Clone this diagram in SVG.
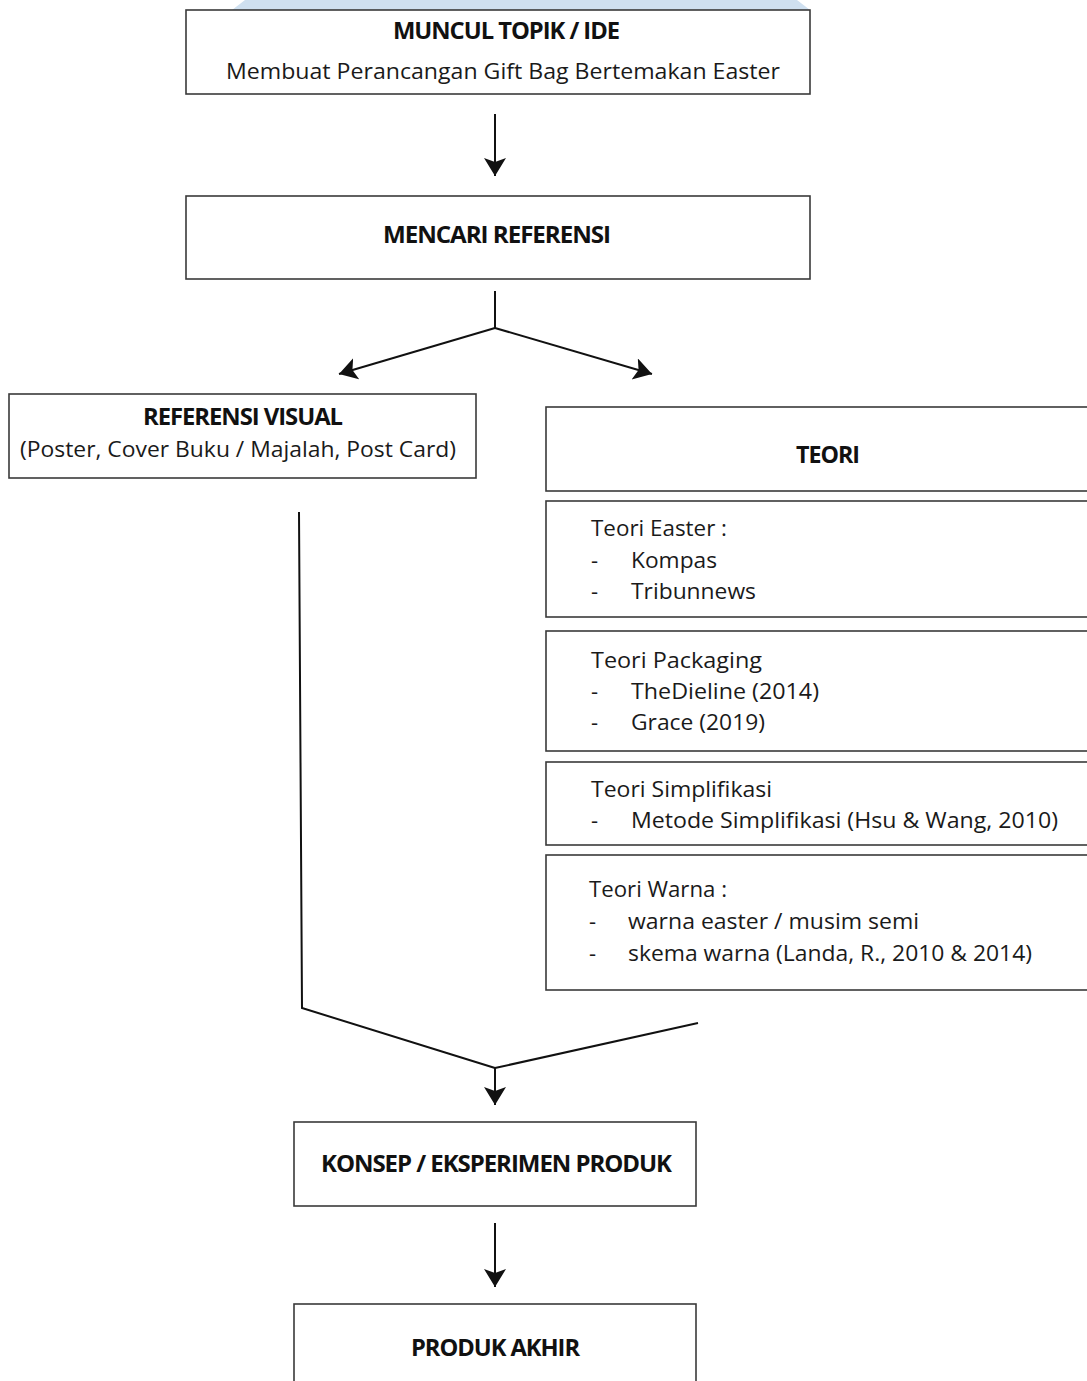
<svg xmlns="http://www.w3.org/2000/svg" width="1087" height="1381" viewBox="0 0 1087 1381">
  <style>
    .box { fill: #ffffff; stroke: #3a3a3a; stroke-width: 1.6; }
    .ttl { font-family: "Open Sans", "Liberation Sans", sans-serif; font-weight: 700; font-size: 23px; fill: #111111; letter-spacing: -1px; }
    .txt { font-family: "Open Sans", "Liberation Sans", sans-serif; font-size: 22px; fill: #1a1a1a; }
    .con { fill: none; stroke: #111111; stroke-width: 2; }
  </style>
  <defs>
    <marker id="arr" markerUnits="userSpaceOnUse" markerWidth="20" markerHeight="24" refX="18" refY="11" orient="auto">
      <path d="M0,0 L18,11 L0,22 L4,11 Z" fill="#111111"/>
    </marker>
  </defs>
  <rect x="0" y="0" width="1087" height="1381" fill="#ffffff"/>
  <polygon points="245,0 797,0 810,10 232,10" fill="#cfe0f0"/>

  <g id="connectors">
    <line class="con" x1="495" y1="114" x2="495" y2="176" marker-end="url(#arr)"/>
    <line class="con" x1="495" y1="291" x2="495" y2="328"/>
    <line class="con" x1="495" y1="328" x2="339" y2="374" marker-end="url(#arr)"/>
    <line class="con" x1="495" y1="328" x2="652" y2="374" marker-end="url(#arr)"/>
    <polyline class="con" points="299,512 302,1008 495,1068"/>
    <line class="con" x1="698" y1="1023" x2="495" y2="1068"/>
    <line class="con" x1="495" y1="1068" x2="495" y2="1105" marker-end="url(#arr)"/>
    <line class="con" x1="495" y1="1223" x2="495" y2="1287" marker-end="url(#arr)"/>
  </g>

  <g id="muncul-topik">
    <rect class="box" x="186" y="10" width="624" height="84"/>
    <text class="ttl" x="393" y="39" textLength="226" lengthAdjust="spacingAndGlyphs">MUNCUL TOPIK / IDE</text>
    <text class="txt" x="226" y="79" textLength="554" lengthAdjust="spacingAndGlyphs">Membuat Perancangan Gift Bag Bertemakan Easter</text>
  </g>

  <g id="mencari-referensi">
    <rect class="box" x="186" y="196" width="624" height="83"/>
    <text class="ttl" x="383" y="243" textLength="227" lengthAdjust="spacingAndGlyphs">MENCARI REFERENSI</text>
  </g>

  <g id="referensi-visual">
    <rect class="box" x="9" y="394" width="467" height="84"/>
    <text class="ttl" x="143" y="425" textLength="199" lengthAdjust="spacingAndGlyphs">REFERENSI VISUAL</text>
    <text class="txt" x="20" y="457" textLength="436" lengthAdjust="spacingAndGlyphs">(Poster, Cover Buku / Majalah, Post Card)</text>
  </g>

  <g id="teori">
    <rect class="box" x="546" y="407" width="560" height="84"/>
    <text class="ttl" x="796" y="463" textLength="63" lengthAdjust="spacingAndGlyphs">TEORI</text>
  </g>

  <g id="teori-easter">
    <rect class="box" x="546" y="501" width="560" height="116"/>
    <text class="txt" x="591" y="536" textLength="136" lengthAdjust="spacingAndGlyphs">Teori Easter :</text>
    <text class="txt" x="591" y="568">-</text>
    <text class="txt" x="631" y="568" textLength="86" lengthAdjust="spacingAndGlyphs">Kompas</text>
    <text class="txt" x="591" y="599">-</text>
    <text class="txt" x="631" y="599" textLength="125" lengthAdjust="spacingAndGlyphs">Tribunnews</text>
  </g>

  <g id="teori-packaging">
    <rect class="box" x="546" y="631" width="560" height="120"/>
    <text class="txt" x="591" y="668" textLength="171" lengthAdjust="spacingAndGlyphs">Teori Packaging</text>
    <text class="txt" x="591" y="699">-</text>
    <text class="txt" x="631" y="699" textLength="188" lengthAdjust="spacingAndGlyphs">TheDieline (2014)</text>
    <text class="txt" x="591" y="730">-</text>
    <text class="txt" x="631" y="730" textLength="134" lengthAdjust="spacingAndGlyphs">Grace (2019)</text>
  </g>

  <g id="teori-simplifikasi">
    <rect class="box" x="546" y="762" width="560" height="83"/>
    <text class="txt" x="591" y="797" textLength="181" lengthAdjust="spacingAndGlyphs">Teori Simplifikasi</text>
    <text class="txt" x="591" y="828">-</text>
    <text class="txt" x="631" y="828" textLength="427" lengthAdjust="spacingAndGlyphs">Metode Simplifikasi (Hsu &amp; Wang, 2010)</text>
  </g>

  <g id="teori-warna">
    <rect class="box" x="546" y="855" width="560" height="135"/>
    <text class="txt" x="589" y="897" textLength="138" lengthAdjust="spacingAndGlyphs">Teori Warna :</text>
    <text class="txt" x="589" y="929">-</text>
    <text class="txt" x="628" y="929" textLength="291" lengthAdjust="spacingAndGlyphs">warna easter / musim semi</text>
    <text class="txt" x="589" y="961">-</text>
    <text class="txt" x="628" y="961" textLength="404" lengthAdjust="spacingAndGlyphs">skema warna (Landa, R., 2010 &amp; 2014)</text>
  </g>

  <g id="konsep">
    <rect class="box" x="294" y="1122" width="402" height="84"/>
    <text class="ttl" x="321" y="1172" textLength="350" lengthAdjust="spacingAndGlyphs">KONSEP / EKSPERIMEN PRODUK</text>
  </g>

  <g id="produk-akhir">
    <rect class="box" x="294" y="1304" width="402" height="100"/>
    <text class="ttl" x="411" y="1356" textLength="168" lengthAdjust="spacingAndGlyphs">PRODUK AKHIR</text>
  </g>
</svg>
